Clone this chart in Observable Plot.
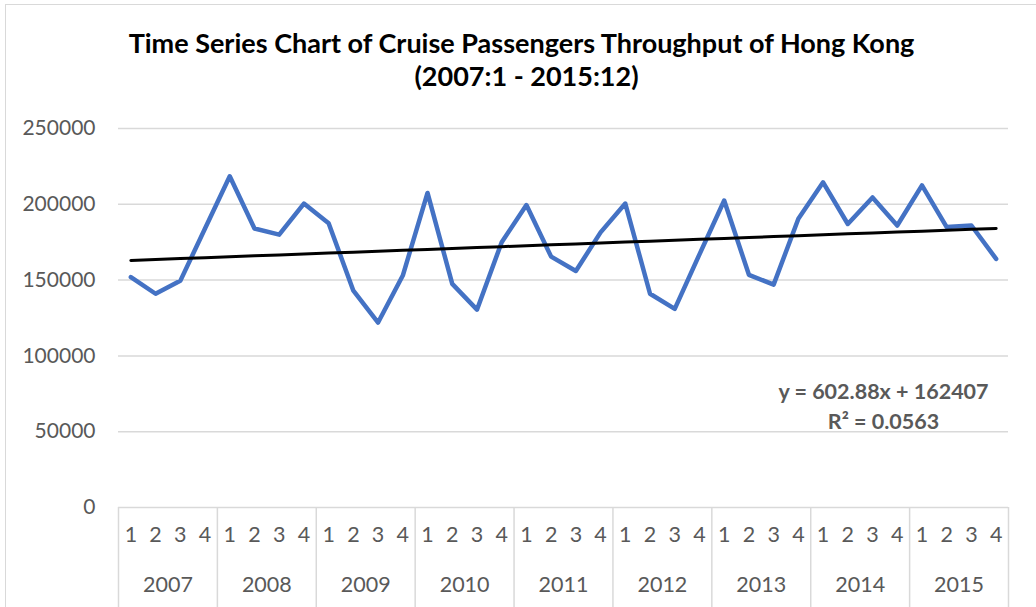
<!DOCTYPE html>
<html>
<head>
<meta charset="utf-8">
<script src="https://cdn.jsdelivr.net/npm/d3@7"></script>
<script src="https://cdn.jsdelivr.net/npm/@observablehq/plot@0.6"></script>
<style>
  html, body { margin: 0; padding: 0; background: #fff; overflow: hidden; }
  #wrap { position: relative; width: 1036px; height: 607px; }
  #border { position: absolute; left: 5px; top: 4px; width: 1100px; height: 700px; border: 1.5px solid #d9d9d9; box-sizing: border-box; }
  #chart { position: absolute; left: 0; top: 0; }
  #chart svg { background: transparent; }
</style>
</head>
<body>
<div id="wrap"><div id="border"></div><div id="chart"></div></div>
<script>
const titleLines = ["Time Series Chart of Cruise Passengers Throughput of Hong Kong", "(2007:1 - 2015:12)"];
const years = ["2007","2008","2009","2010","2011","2012","2013","2014","2015"];
const quarters = ["1","2","3","4"];
const passengers = [
  152000, 141000, 149500, 184000,
  218500, 184000, 180000, 200500,
  187500, 143000, 122000, 153000,
  207500, 147500, 130500, 175000,
  199500, 165500, 156000, 181500,
  200500, 141000, 131000, 167000,
  202500, 153500, 147000, 190500,
  214500, 187000, 204500, 186000,
  212500, 185000, 186000, 164000
];
const yTicks = [0, 50000, 100000, 150000, 200000, 250000];
const trendSlope = 602.88;
const trendIntercept = 162407;
const trendLabel = ["y = 602.88x + 162407", "R² = 0.0563"];

const rows = [];
years.forEach((yr, k) => quarters.forEach((q, j) => {
  const i = k * quarters.length + j + 1;
  rows.push({i, year: yr, q, value: passengers[i - 1], trend: trendSlope * i + trendIntercept});
}));
const yearRows = years.map((yr, k) => ({year: yr, mid: k * 4 + 2.5}));
const boundaries = d3.range(years.length + 1).map(k => k * 4 + 0.5);

const gray = "#595959";
const font = "Lato, 'Open Sans', sans-serif";

const chart = Plot.plot({
  width: 1036,
  height: 607,
  marginLeft: 118,
  marginRight: 28,
  marginTop: 128,
  marginBottom: 100,
  style: {fontFamily: font, background: "transparent"},
  x: {type: "linear", domain: [0.5, rows.length + 0.5], axis: null},
  y: {domain: [0, 250000], axis: null},
  marks: [
    Plot.gridY(yTicks, {stroke: "#d9d9d9", strokeOpacity: 1, strokeWidth: 1.5}),
    Plot.axisY(yTicks, {tickSize: 0, tickPadding: 23, tickFormat: d => String(d), fontSize: 21, fill: gray, stroke: null}),
    Plot.ruleX(boundaries, {x: d => d, stroke: "#d9d9d9", strokeWidth: 1.5, insetTop: 379, insetBottom: -100}),
    Plot.text(rows, {x: "i", text: "q", frameAnchor: "bottom", dy: 34, fontSize: 21.5, fill: gray}),
    Plot.text(yearRows, {x: "mid", text: "year", frameAnchor: "bottom", dy: 84, fontSize: 21.5, fill: gray}),
    Plot.line(rows, {x: "i", y: "value", stroke: "#4472C4", strokeWidth: 4.5, strokeLinejoin: "round", strokeLinecap: "round"}),
    Plot.line(rows, {x: "i", y: "trend", stroke: "#000", strokeWidth: 3, strokeLinecap: "round"}),
    Plot.text([titleLines[0]], {frameAnchor: "top", dx: -42, dy: -76, lineAnchor: "bottom", fontSize: 27, fontWeight: "bold", fill: "#000"}),
    Plot.text([titleLines[1]], {frameAnchor: "top", dx: -37, dy: -43, lineAnchor: "bottom", fontSize: 27, fontWeight: "bold", fill: "#000"}),
    Plot.text([trendLabel[0]], {frameAnchor: "top-right", dx: -125, dy: 270, textAnchor: "middle", lineAnchor: "bottom", fontSize: 21.5, fontWeight: "bold", fill: gray}),
    Plot.text([trendLabel[1]], {frameAnchor: "top-right", dx: -125, dy: 300, textAnchor: "middle", lineAnchor: "bottom", fontSize: 21.5, fontWeight: "bold", fill: gray})
  ]
});
document.getElementById("chart").appendChild(chart);
</script>
</body>
</html>
